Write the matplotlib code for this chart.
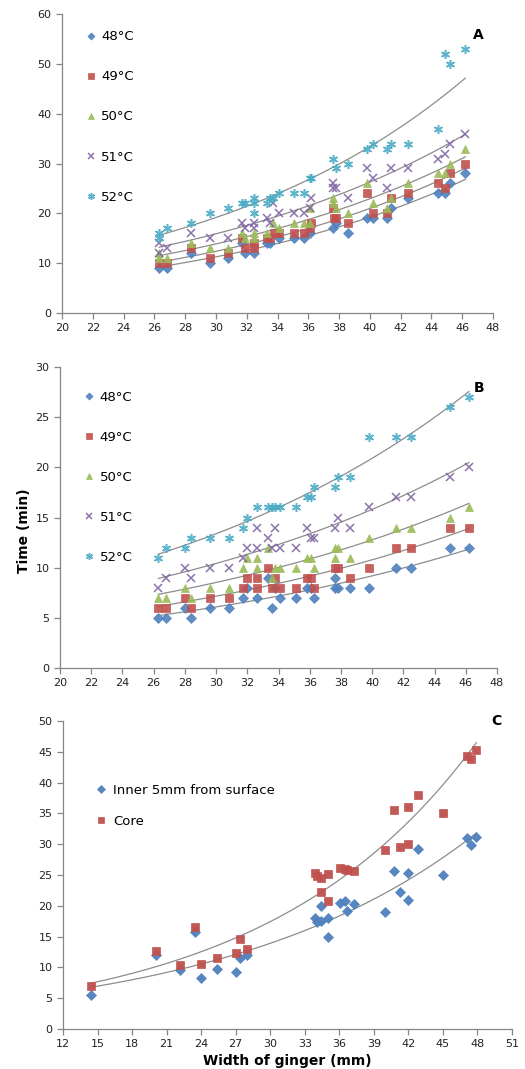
import numpy as np
import matplotlib
matplotlib.use("Agg")
import matplotlib.pyplot as plt

# ---------------- Panel A data ----------------
a48_x = [26.3, 26.8, 28.4, 29.6, 30.8, 31.7, 31.9, 32.5, 33.3, 33.5, 34.1, 35.1, 35.7, 36.1, 37.6, 37.8, 38.6, 39.8, 40.2, 41.1, 41.4, 42.5, 44.4, 44.9, 45.2, 46.2]
a48_y = [9, 9, 12, 10, 11, 14, 12, 12, 14, 14, 15, 15, 15, 16, 17, 18, 16, 19, 19, 19, 21, 23, 24, 24, 26, 28]
a49_x = [26.3, 26.8, 28.4, 29.6, 30.8, 31.7, 31.9, 32.5, 32.5, 33.3, 33.5, 33.8, 34.1, 35.1, 35.7, 36.2, 36.1, 37.6, 37.7, 37.8, 38.6, 39.8, 40.2, 41.1, 41.4, 42.5, 44.4, 44.9, 45.2, 46.2]
a49_y = [10, 10, 13, 11, 12, 15, 13, 13, 14, 15, 15, 16, 16, 16, 16, 18, 17, 21, 19, 19, 18, 24, 20, 20, 23, 24, 26, 25, 28, 30]
a50_x = [26.3, 26.3, 26.8, 28.4, 29.6, 30.8, 31.7, 31.9, 32.5, 32.5, 33.3, 33.7, 34.1, 35.1, 35.7, 36.1, 36.1, 37.6, 37.6, 37.8, 38.6, 39.8, 40.2, 41.1, 41.4, 42.5, 44.4, 44.9, 45.2, 46.2]
a50_y = [12, 11, 11, 14, 13, 13, 16, 15, 16, 15, 16, 18, 17, 18, 18, 21, 18, 23, 22, 21, 20, 26, 22, 21, 23, 26, 28, 28, 30, 33]
a51_x = [26.3, 26.3, 26.8, 28.4, 29.6, 30.8, 31.7, 31.9, 32.5, 32.5, 33.3, 33.5, 33.7, 34.1, 35.1, 35.7, 36.2, 36.1, 37.6, 37.6, 37.8, 38.6, 39.8, 40.2, 41.1, 41.4, 42.5, 44.4, 44.9, 45.2, 46.2]
a51_y = [14, 12, 13, 16, 15, 15, 18, 17, 18, 17, 19, 18, 22, 20, 20, 20, 23, 21, 26, 25, 25, 23, 29, 27, 25, 29, 29, 31, 32, 34, 36]
a52_x = [26.3, 26.3, 26.8, 28.4, 29.6, 30.8, 31.7, 31.9, 32.5, 32.5, 32.5, 33.3, 33.5, 33.7, 34.1, 35.1, 35.7, 36.1, 36.2, 37.6, 37.8, 38.6, 39.8, 40.2, 41.1, 41.4, 42.5, 44.4, 44.9, 45.2, 46.2]
a52_y = [16, 15, 17, 18, 20, 21, 22, 22, 23, 22, 20, 22, 23, 23, 24, 24, 24, 27, 27, 31, 29, 30, 33, 34, 33, 34, 34, 37, 52, 50, 53]

# ---------------- Panel B data ----------------
b_x = [26.3, 26.8, 28.0, 28.4, 29.6, 30.8, 31.7, 32.0, 32.6, 33.3, 33.6, 33.8, 34.1, 35.1, 35.8, 36.1, 36.3, 37.6, 37.8, 38.6, 39.8, 41.5, 42.5, 45.0, 46.2]
b48_y = [5, 5, 6, 5, 6, 6, 7, 8, 7, 9, 6, 8, 7, 7, 8, 8, 7, 9, 8, 8, 8, 10, 10, 12, 12]
b49_y = [6, 6, 7, 6, 7, 7, 8, 9, 9, 10, 8, 9, 8, 8, 9, 9, 8, 10, 10, 9, 10, 12, 12, 14, 14]
b50_y = [7, 7, 8, 7, 8, 8, 10, 11, 11, 12, 9, 10, 10, 10, 11, 11, 10, 12, 12, 11, 13, 14, 14, 15, 16]
b51_y = [8, 9, 10, 9, 10, 10, 11, 12, 14, 13, 12, 14, 12, 12, 14, 13, 13, 14, 15, 14, 16, 17, 17, 19, 20]
b52_y = [11, 12, 12, 13, 13, 13, 14, 15, 16, 16, 16, 16, 16, 16, 17, 17, 18, 18, 19, 19, 23, 23, 23, 26, 27]
b_extra_x = [37.6, 32.6, 32.6, 32.6, 37.6]
b_extra_series = ["48", "49", "50", "51", "50"]
b_extra_y = [8, 8, 10, 12, 11]

# ---------------- Panel C data ----------------
c_x = [14.4, 20.1, 22.2, 23.5, 24.0, 25.4, 27.0, 27.4, 28.0, 33.9, 34.05, 34.4, 34.4, 35.05, 35.05, 36.1, 36.5, 36.7, 37.3, 40.0, 40.75, 41.3, 42.0, 42.0, 42.85, 45.05, 47.05, 47.45, 47.9]
c_inner = [5.6, 12.0, 9.5, 15.8, 8.3, 9.8, 9.3, 11.6, 12.0, 18.0, 17.4, 20.0, 17.6, 18.0, 15.0, 20.4, 20.7, 19.2, 20.3, 19.0, 25.6, 22.3, 25.3, 21.0, 29.2, 25.0, 31.0, 29.9, 31.1]
c_core = [7.0, 12.7, 10.4, 16.6, 10.5, 11.5, 12.3, 14.6, 13.0, 25.3, 24.9, 24.5, 22.2, 25.1, 20.8, 26.2, 26.0, 25.85, 25.6, 29.1, 35.5, 29.5, 30.1, 36.0, 38.0, 35.1, 44.3, 43.9, 45.3]

temps_labels = ["48°C", "49°C", "50°C", "51°C", "52°C"]
colors = ["#4F81BD", "#C0504D", "#9BBB59", "#8064A2", "#4BACC6"]
markers = ["D", "s", "^", "x", (6, 2, 0)]
msizes = [4.8, 5.8, 6.0, 5.5, 6.5]
SP = "#868686"


def style(ax):
    for s in ["top", "right"]:
        ax.spines[s].set_visible(False)
    for s in ["left", "bottom"]:
        ax.spines[s].set_color(SP)
        ax.spines[s].set_linewidth(0.9)
    ax.tick_params(axis="both", colors=SP, labelcolor="#222222", labelsize=8,
                   direction="out", length=4, width=0.9)
    ax.patch.set_alpha(0)


def expfit(ax, x, y):
    x = np.asarray(x, float)
    y = np.asarray(y, float)
    b, ln_a = np.polyfit(x, np.log(y), 1)
    xx = np.linspace(x.min(), x.max(), 200)
    ax.plot(xx, np.exp(ln_a) * np.exp(b * xx), color="#8c8c8c", lw=0.9, zorder=1)


def mew_for(m):
    return 1.1 if m in ("x", (6, 2, 0)) else 0.5


fig = plt.figure(figsize=(5.25, 10.69), dpi=100)

# ---------------- Panel A ----------------
axA = fig.add_axes([62 / 525, 1 - 313 / 1069, 431 / 525, 299 / 1069])
seriesA = [(a48_x, a48_y), (a49_x, a49_y), (a50_x, a50_y), (a51_x, a51_y), (a52_x, a52_y)]
for (x, y), c, m, ms, lab in zip(seriesA, colors, markers, msizes, temps_labels):
    expfit(axA, x, y)
    axA.plot(x, y, linestyle="none", marker=m, color=c, ms=ms, mew=mew_for(m),
             mec=c, label=lab, zorder=3, alpha=0.9)
axA.set_xlim(20, 48)
axA.set_ylim(0, 60)
axA.set_xticks(np.arange(20, 49, 2))
axA.set_yticks(np.arange(0, 61, 10))
style(axA)
axA.legend(loc="upper left", bbox_to_anchor=(0.03, 0.985), frameon=False, fontsize=9.5,
           labelspacing=2.05, handlelength=0.6, handletextpad=0.5, markerscale=0.75)
axA.text(0.965, 0.93, "A", transform=axA.transAxes, fontsize=10, fontweight="bold", ha="center", va="center")

# ---------------- Panel B ----------------
axB = fig.add_axes([60 / 525, 1 - 668 / 1069, 437 / 525, 301 / 1069])
seriesB = [b48_y, b49_y, b50_y, b51_y, b52_y]
for y, c, m, ms, lab in zip(seriesB, colors, markers, msizes, temps_labels):
    key = lab[:2]
    ex = [bx for bx, s in zip(b_extra_x, b_extra_series) if s == key]
    ey = [by for by, s in zip(b_extra_y, b_extra_series) if s == key]
    xs = list(b_x) + ex
    ys = list(y) + ey
    expfit(axB, xs, ys)
    axB.plot(xs, ys, linestyle="none", marker=m, color=c, ms=ms, mew=mew_for(m),
             mec=c, label=lab, zorder=3, alpha=0.9)
axB.set_xlim(20, 48)
axB.set_ylim(0, 30)
axB.set_xticks(np.arange(20, 49, 2))
axB.set_yticks(np.arange(0, 31, 5))
style(axB)
axB.legend(loc="upper left", bbox_to_anchor=(0.03, 0.96), frameon=False, fontsize=9.5,
           labelspacing=2.05, handlelength=0.6, handletextpad=0.5, markerscale=0.75)
axB.text(0.96, 0.93, "B", transform=axB.transAxes, fontsize=10, fontweight="bold", ha="center", va="center")
fig.text(24 / 525, 1 - 531 / 1069, "Time (min)", rotation=90, fontsize=10, fontweight="bold",
         ha="center", va="center")

# ---------------- Panel C ----------------
axC = fig.add_axes([63 / 525, 1 - 1029 / 1069, 449 / 525, 308 / 1069])
expfit(axC, c_x, c_inner)
expfit(axC, c_x, c_core)
axC.plot(c_x, c_inner, linestyle="none", marker="D", color=colors[0], ms=5.6, mec=colors[0], mew=0.5,
         label="Inner 5mm from surface", zorder=3, alpha=0.95)
axC.plot(c_x, c_core, linestyle="none", marker="s", color=colors[1], ms=6.3, mec=colors[1], mew=0.5,
         label="Core", zorder=3, alpha=0.95)
axC.set_xlim(12, 51)
axC.set_ylim(0, 50)
axC.set_xticks(np.arange(12, 52, 3))
axC.set_yticks(np.arange(0, 51, 5))
style(axC)
axC.legend(loc="upper left", bbox_to_anchor=(0.05, 0.835), frameon=False, fontsize=9.5,
           labelspacing=1.35, handlelength=0.6, handletextpad=0.6, markerscale=0.75)
axC.text(0.965, 1.0, "C", transform=axC.transAxes, fontsize=10, fontweight="bold", ha="center", va="center")
axC.set_xlabel("Width of ginger (mm)", fontsize=10, fontweight="bold", labelpad=3)

fig.savefig("out.png", dpi=100)
